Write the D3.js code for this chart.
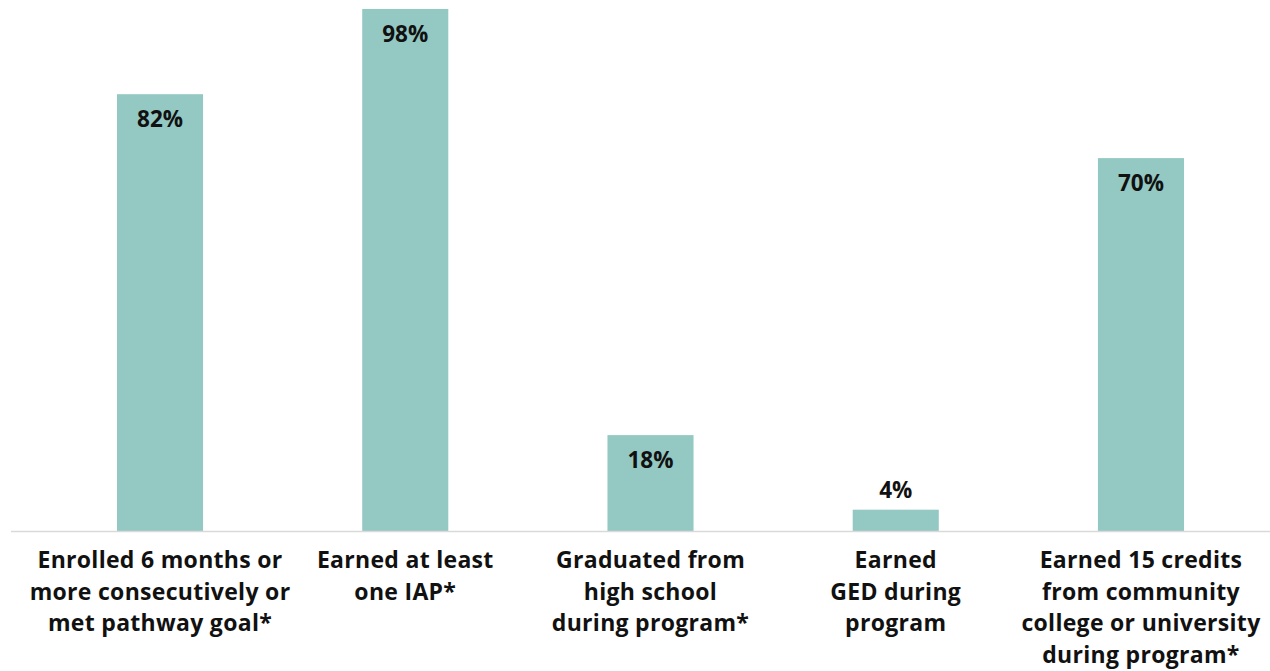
<!DOCTYPE html>
<html>
<head>
<meta charset="utf-8">
<script src="https://cdn.jsdelivr.net/npm/d3@7"></script>
<style>
  body { margin: 0; background: #fff; }
  svg text { font-family: "Open Sans", Lato, sans-serif; font-weight: 700; fill: #111; }
</style>
</head>
<body>
<figure id="bar" style="margin:0"></figure>
<script>
// chart data
const categories = ['enrolled', 'iap', 'hs', 'ged', 'credits'];
const labelLines = [
  ['Enrolled 6 months or', 'more consecutively or', 'met pathway goal*'],
  ['Earned at least', 'one IAP*'],
  ['Graduated from', 'high school', 'during program*'],
  ['Earned', 'GED during', 'program'],
  ['Earned 15 credits', 'from community', 'college or university', 'during program*']
];
const values = [82, 98, 18, 4, 70];

const width = 1270;
const height = 671;
const baseY = 531;

const svg = d3.select('figure#bar')
  .append('svg')
  .attr('width', width)
  .attr('height', height);

const x = d3.scaleBand()
  .domain(categories)
  .range([37.4, 1263.6])
  .paddingInner(0.649)
  .paddingOuter(0.3245);

const y = d3.scaleLinear()
  .domain([0, 100])
  .range([baseY, -1.7]);

const data = categories.map((c, i) => ({ cat: c, value: values[i], lines: labelLines[i] }));

svg.selectAll('rect.bar')
  .data(data)
  .enter()
  .append('rect')
  .attr('class', 'bar')
  .attr('x', d => x(d.cat))
  .attr('y', d => y(d.value))
  .attr('width', x.bandwidth())
  .attr('height', d => baseY - y(d.value))
  .attr('fill', '#93c9c2');

// baseline
svg.append('line')
  .attr('x1', 11)
  .attr('x2', width)
  .attr('y1', baseY + 0.5)
  .attr('y2', baseY + 0.5)
  .attr('stroke', '#d9d9d9')
  .attr('stroke-width', 1.5);

// value labels
svg.selectAll('text.value')
  .data(data)
  .enter()
  .append('text')
  .attr('class', 'value')
  .attr('x', d => x(d.cat) + x.bandwidth() / 2)
  .attr('y', d => (baseY - y(d.value) > 40) ? y(d.value) + 33 : y(d.value) - 12)
  .attr('text-anchor', 'middle')
  .style('font-size', '22.5px')
  .text(d => d.value + '%');

// category labels
const labels = svg.selectAll('text.cat')
  .data(data)
  .enter()
  .append('text')
  .attr('class', 'cat')
  .attr('text-anchor', 'middle')
  .style('font-size', '23px')
  .style('letter-spacing', '0.3px');

labels.selectAll('tspan')
  .data(d => d.lines.map(l => ({ line: l, cx: x(d.cat) + x.bandwidth() / 2 })))
  .enter()
  .append('tspan')
  .attr('x', d => d.cx)
  .attr('y', (d, i) => 568 + i * 31.5)
  .text(d => d.line);
</script>
</body>
</html>
